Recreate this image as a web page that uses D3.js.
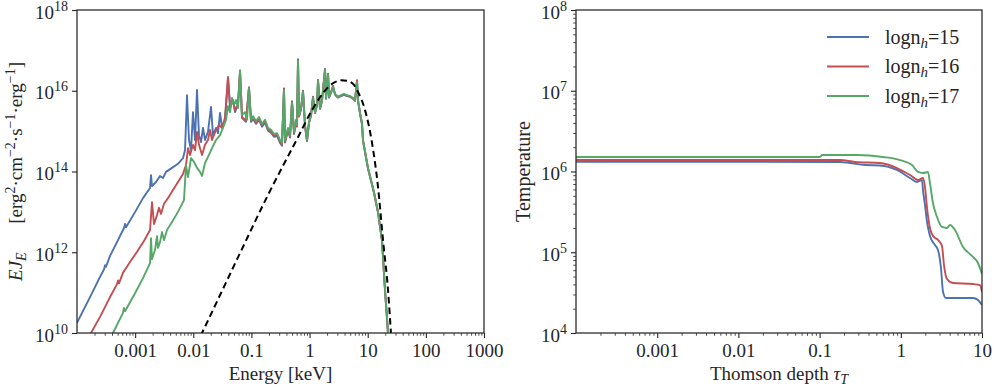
<!DOCTYPE html>
<html>
<head>
<meta charset="utf-8">
<script src="https://cdn.jsdelivr.net/npm/d3@7"></script>
<style>
  body { margin: 0; background: #fff; }
  svg text { font-family: "Liberation Serif", "DejaVu Serif", serif; fill: #262626; }
</style>
</head>
<body>
<svg id="chart" width="996" height="388"></svg>
<script>
// ---- left panel: spectra, [log10 E (keV), log10 EJ_E] ----
const spec15Lo = [[-4.000,10.25],[-3.776,10.89],[-3.604,11.39],[-3.535,11.58],[-3.518,11.68],[-3.501,11.64],[-3.432,11.91],[-3.295,12.30],[-3.192,12.60],[-3.174,12.70],[-3.157,12.62],[-3.000,13.00],[-2.865,13.34],[-2.744,13.59],[-2.727,13.91],[-2.710,13.64],[-2.641,13.74],[-2.572,13.89],[-2.521,13.84],[-2.469,13.99],[-2.366,14.09],[-2.263,14.19],[-2.177,14.33],[-2.142,14.53],[-2.108,15.89],[-2.074,14.78],[-2.039,14.53],[-2.005,15.47],[-1.970,14.78],[-1.936,16.02],[-1.902,14.90],[-1.867,14.73],[-1.833,15.08],[-1.798,14.78],[-1.747,14.98],[-1.695,15.60],[-1.661,14.90],[-1.609,15.08],[-1.575,14.95],[-1.540,15.45],[-1.506,15.08],[-1.454,15.28],[-1.403,16.32],[-1.368,15.57],[-1.317,15.77],[-1.282,15.47],[-1.231,15.65],[-1.196,16.46],[-1.162,15.33],[-1.093,15.23],[-1.042,16.07],[-1.007,15.23]];
const spec16Lo = [[-3.80,9.9],[-3.759,10.00],[-3.604,10.40],[-3.432,10.89],[-3.312,11.21],[-3.295,11.30],[-3.278,11.23],[-3.209,11.49],[-3.088,11.76],[-2.968,12.01],[-2.848,12.28],[-2.744,12.55],[-2.710,13.24],[-2.676,12.70],[-2.624,12.92],[-2.590,13.10],[-2.555,12.95],[-2.504,13.20],[-2.435,13.34],[-2.349,13.54],[-2.263,13.74],[-2.177,13.94],[-2.125,14.16],[-2.091,14.58],[-2.056,14.41],[-2.005,14.66],[-1.970,14.53],[-1.936,14.98],[-1.902,14.66],[-1.850,14.41],[-1.798,14.66],[-1.747,14.78],[-1.712,15.03],[-1.678,14.78],[-1.609,15.03],[-1.557,15.15],[-1.506,15.08],[-1.454,15.33],[-1.403,16.34],[-1.368,15.65],[-1.317,15.77],[-1.282,15.52],[-1.231,15.67],[-1.196,16.49],[-1.162,15.35],[-1.093,15.25],[-1.042,16.09],[-1.007,15.25]];
const spec17Lo = [[-3.42,9.9],[-3.381,10.00],[-3.209,10.50],[-3.192,10.62],[-3.174,10.54],[-3.000,10.99],[-2.865,11.36],[-2.744,11.73],[-2.727,12.35],[-2.710,11.83],[-2.658,12.06],[-2.624,12.40],[-2.607,12.11],[-2.572,12.25],[-2.538,12.50],[-2.504,12.30],[-2.452,12.55],[-2.366,12.75],[-2.263,13.00],[-2.160,13.29],[-2.125,14.16],[-2.091,13.86],[-2.039,14.33],[-1.987,14.24],[-1.936,14.09],[-1.884,13.99],[-1.850,13.89],[-1.798,14.21],[-1.730,14.41],[-1.678,14.58],[-1.609,14.78],[-1.540,14.90],[-1.489,15.08],[-1.437,15.28],[-1.403,15.62],[-1.368,15.47],[-1.334,15.82],[-1.300,15.65],[-1.265,15.77],[-1.231,15.57],[-1.196,16.51],[-1.162,15.40],[-1.110,15.47],[-1.076,15.28],[-1.042,16.07],[-1.007,15.28]];

// shared energy grid above ~0.1 keV, where the three spectra nearly overlap
const hiLogE = [-0.973,-0.921,-0.870,-0.818,-0.766,-0.715,-0.663,-0.612,-0.560,-0.508,-0.474,-0.440,-0.422,-0.371,-0.336,-0.302,-0.267,-0.233,-0.216,-0.199,-0.182,-0.147,-0.113,-0.078,-0.044,-0.010,0.025,0.059,0.094,0.128,0.145,0.180,0.214,0.266,0.283,0.318,0.335,0.369,0.403,0.438,0.489,0.541,0.592,0.644,0.696,0.747,0.782,0.816,0.833,0.868,0.902,0.919,0.971,1.005,1.057,1.108,1.177,1.246,1.298,1.332,1.349,1.366];
const spec15Hi = [15.30,15.18,15.28,15.11,15.21,15.01,14.96,14.86,14.88,14.71,14.64,16.06,14.72,15.02,14.84,15.74,14.93,15.24,15.11,16.78,15.36,15.54,16.00,15.12,14.75,15.20,15.38,15.85,15.45,15.63,16.27,15.55,15.75,16.54,15.80,16.42,15.83,15.95,16.12,15.90,15.83,15.87,15.90,15.87,15.85,15.80,15.75,16.26,15.75,15.43,15.16,14.76,14.34,14.07,13.77,13.47,12.98,12.28,11.04,10.35,9.98,9.68];
const spec16Hi = [15.33,15.21,15.31,15.14,15.24,15.04,14.99,14.89,14.91,14.74,14.67,16.05,14.74,15.04,14.86,15.73,14.94,15.25,15.12,16.77,15.37,15.55,15.99,15.13,14.76,15.21,15.39,15.84,15.46,15.64,16.26,15.56,15.76,16.53,15.81,16.41,15.84,15.96,16.11,15.91,15.84,15.88,15.91,15.88,15.86,15.81,15.76,16.25,15.76,15.44,15.18,14.77,14.35,14.08,13.78,13.48,12.99,12.29,11.05,10.36,9.99,9.69];
const spec17Hi = [15.37,15.25,15.35,15.18,15.28,15.08,15.03,14.93,14.95,14.78,14.71,16.02,14.78,15.08,14.90,15.70,14.98,15.28,15.15,16.74,15.40,15.57,15.97,15.15,14.78,15.23,15.40,15.82,15.47,15.65,16.24,15.57,15.77,16.51,15.82,16.39,15.85,15.97,16.09,15.92,15.85,15.89,15.92,15.89,15.87,15.82,15.77,16.22,15.77,15.45,15.22,14.78,14.36,14.09,13.79,13.49,13.00,12.30,11.06,10.37,10.00,9.70];

// dashed reference spectrum
const bbSpec = [[-1.95,9.7],[-1.85,10.0],[-1.196,11.98],[-0.732,13.37],[-0.199,14.85],[0.042,15.52],[0.30,16.06],[0.42,16.20],[0.54,16.26],[0.66,16.24],[0.76,16.15],[0.833,15.97],[0.954,15.52],[1.074,14.71],[1.177,13.62],[1.263,12.30],[1.349,11.07],[1.40,10.0],[1.42,9.6]];

// ---- right panel: temperature, [log10 tau_T, log10 T] ----
const temp15 = [[-4,6.121],[-0.749,6.118],[-0.626,6.105],[-0.441,6.08],[-0.256,6.075],[-0.047,6.019],[0.113,5.919],[0.199,5.87],[0.261,5.895],[0.273,5.771],[0.298,5.585],[0.323,5.375],[0.359,5.201],[0.421,5.09],[0.458,5.028],[0.495,4.805],[0.52,4.508],[0.557,4.433],[0.729,4.433],[0.889,4.433],[0.951,4.409],[1.0,4.347]];
const temp16 = [[-4,6.142],[-0.749,6.142],[-0.564,6.118],[-0.256,6.105],[-0.047,6.043],[0.113,5.957],[0.212,5.895],[0.273,5.92],[0.298,5.808],[0.323,5.548],[0.359,5.30],[0.396,5.201],[0.458,5.152],[0.507,5.077],[0.532,4.842],[0.569,4.669],[0.643,4.619],[0.889,4.607],[0.975,4.594],[1.0,4.508]];
const temp17 = [[-4,6.18],[-0.995,6.18],[-0.970,6.204],[-0.540,6.204],[-0.219,6.18],[-0.010,6.142],[0.138,6.08],[0.212,5.994],[0.273,5.981],[0.335,5.994],[0.359,5.858],[0.396,5.61],[0.446,5.437],[0.507,5.313],[0.569,5.30],[0.606,5.337],[0.667,5.276],[0.766,5.065],[0.877,4.954],[0.951,4.867],[1.0,4.731]];

const seriesNames = ["15", "16", "17"];
const colors = ["#4c72b0", "#c44e52", "#55a868"];

const xTicksE = [1e-3, 1e-2, 1e-1, 1, 10, 100, 1000];
const xLabelsE = ["0.001", "0.01", "0.1", "1", "10", "100", "1000"];
const yExpF = [10, 12, 14, 16, 18];
const xTicksT = [1e-3, 1e-2, 1e-1, 1, 10];
const xLabelsT = ["0.001", "0.01", "0.1", "1", "10"];
const yExpT = [4, 5, 6, 7, 8];

const ink = "#262626";
const svg = d3.select("#chart");

const xE = d3.scaleLog().domain([1e-4, 1e3]).range([77, 484]);
const yF = d3.scaleLog().domain([1e10, 1e18]).range([333, 10]);
const xT = d3.scaleLog().domain([1e-4, 10]).range([576, 982]);
const yT = d3.scaleLog().domain([1e4, 1e8]).range([333, 10]);

const isPow10 = (d) => Math.abs(Math.log10(d) - Math.round(Math.log10(d))) < 1e-6;

function drawAxes(x, y, xTicks, xLabels, yExps, yMinor) {
  const [x0, x1] = x.range();
  const [y1, y0] = y.range();

  // x major + labels
  const gx = svg.append("g")
    .attr("transform", `translate(0,${y1})`)
    .attr("color", ink)
    .call(d3.axisBottom(x).tickValues(xTicks).tickSize(5).tickFormat((d, i) => xLabels[i]));
  gx.select(".domain").remove();
  gx.selectAll("line").attr("stroke-width", 1.1);
  gx.selectAll("text").style("font-size", "19px").attr("y", 10.5);

  // x minor
  const gxm = svg.append("g")
    .attr("transform", `translate(0,${y1})`)
    .attr("color", ink)
    .call(d3.axisBottom(x).tickValues(x.ticks().filter((d) => !isPow10(d))).tickSize(2.8).tickFormat(""));
  gxm.select(".domain").remove();
  gxm.selectAll("line").attr("stroke-width", 0.8);

  // y major
  const gy = svg.append("g")
    .attr("transform", `translate(${x0},0)`)
    .attr("color", ink)
    .call(d3.axisLeft(y).tickValues(yExps.map((e) => Math.pow(10, e))).tickSize(5).tickFormat(""));
  gy.select(".domain").remove();
  gy.selectAll("line").attr("stroke-width", 1.1);

  if (yMinor) {
    const gym = svg.append("g")
      .attr("transform", `translate(${x0},0)`)
      .attr("color", ink)
      .call(d3.axisLeft(y).tickValues(y.ticks().filter((d) => !isPow10(d))).tickSize(2.8).tickFormat(""));
    gym.select(".domain").remove();
    gym.selectAll("line").attr("stroke-width", 0.8);
  }

  // y labels 10^n
  yExps.forEach((e) => {
    const ty = y(Math.pow(10, e));
    const t = svg.append("text")
      .attr("x", x0 - 9)
      .attr("y", ty + 8.5)
      .attr("text-anchor", "end")
      .style("font-size", "19px");
    t.append("tspan").text("10");
    t.append("tspan").attr("dy", -8).style("font-size", "14px").text(e);
  });

  // frame
  svg.append("rect")
    .attr("x", x0).attr("y", y0)
    .attr("width", x1 - x0).attr("height", y1 - y0)
    .attr("fill", "none")
    .attr("stroke", ink)
    .attr("stroke-width", 1.25);
}

function clip(id, x, y) {
  svg.append("clipPath").attr("id", id)
    .append("rect")
    .attr("x", x.range()[0]).attr("y", y.range()[1])
    .attr("width", x.range()[1] - x.range()[0])
    .attr("height", y.range()[0] - y.range()[1]);
}
clip("clipL", xE, yF);
clip("clipR", xT, yT);

// ---- left panel lines ----
const lineE = d3.line()
  .x((d) => xE(Math.pow(10, d[0])))
  .y((d) => yF(Math.pow(10, d[1])));

const spectra = [
  spec15Lo.concat(hiLogE.map((e, i) => [e, spec15Hi[i]])),
  spec16Lo.concat(hiLogE.map((e, i) => [e, spec16Hi[i]])),
  spec17Lo.concat(hiLogE.map((e, i) => [e, spec17Hi[i]]))
];

const gL = svg.append("g").attr("clip-path", "url(#clipL)");
spectra.forEach((s, i) => {
  gL.append("path")
    .datum(s.filter((d) => d[1] !== undefined))
    .attr("d", lineE)
    .attr("fill", "none")
    .attr("stroke", colors[i])
    .attr("stroke-width", 1.9)
    .attr("stroke-linejoin", "round");
});
gL.append("path")
  .datum(bbSpec)
  .attr("d", lineE.curve(d3.curveMonotoneX))
  .attr("fill", "none")
  .attr("stroke", "#000")
  .attr("stroke-width", 2)
  .attr("stroke-dasharray", "6.5,4");

// ---- right panel lines ----
const lineT = d3.line()
  .x((d) => xT(Math.pow(10, d[0])))
  .y((d) => yT(Math.pow(10, d[1])))
  .curve(d3.curveMonotoneX);

const gR = svg.append("g").attr("clip-path", "url(#clipR)");
[temp15, temp16, temp17].forEach((s, i) => {
  gR.append("path")
    .datum(s)
    .attr("d", lineT)
    .attr("fill", "none")
    .attr("stroke", colors[i])
    .attr("stroke-width", 1.9);
});

drawAxes(xE, yF, xTicksE, xLabelsE, yExpF, false);
drawAxes(xT, yT, xTicksT, xLabelsT, yExpT, true);

// axis titles
svg.append("text")
  .attr("x", (xE.range()[0] + xE.range()[1]) / 2).attr("y", 380)
  .attr("text-anchor", "middle").style("font-size", "19px")
  .text("Energy [keV]");

const tx = svg.append("text")
  .attr("x", (xT.range()[0] + xT.range()[1]) / 2).attr("y", 380)
  .attr("text-anchor", "middle").style("font-size", "19px");
tx.append("tspan").text("Thomson depth ");
tx.append("tspan").style("font-style", "italic").text("\u03c4");
tx.append("tspan").attr("dy", 4).style("font-style", "italic").style("font-size", "14px").text("T");

const yl = svg.append("text")
  .attr("transform", "translate(22,171.5) rotate(-90)")
  .attr("text-anchor", "middle").style("font-size", "19px");
yl.append("tspan").style("font-style", "italic").text("EJ");
yl.append("tspan").attr("dy", 4).style("font-style", "italic").style("font-size", "14px").text("E");
yl.append("tspan").attr("dy", -4).text("\u2003\u2002[erg");
yl.append("tspan").attr("dy", -7).style("font-size", "14px").text("2");
yl.append("tspan").attr("dy", 7).text("\u00b7cm");
yl.append("tspan").attr("dy", -7).style("font-size", "14px").text("\u22122");
yl.append("tspan").attr("dy", 7).text("\u00b7s");
yl.append("tspan").attr("dy", -7).style("font-size", "14px").text("\u22121");
yl.append("tspan").attr("dy", 7).text("\u00b7erg");
yl.append("tspan").attr("dy", -7).style("font-size", "14px").text("\u22121");
yl.append("tspan").attr("dy", 7).text("]");

svg.append("text")
  .attr("transform", "translate(530,171.5) rotate(-90)")
  .attr("text-anchor", "middle").style("font-size", "20px")
  .text("Temperature");

// legend
const legend = svg.append("g");
seriesNames.forEach((n, i) => {
  const ly = 37 + i * 29.5;
  legend.append("line")
    .attr("x1", 827).attr("x2", 869)
    .attr("y1", ly).attr("y2", ly)
    .attr("stroke", colors[i]).attr("stroke-width", 1.9);
  const t = legend.append("text")
    .attr("x", 885).attr("y", ly + 6.5)
    .style("font-size", "20px");
  t.append("tspan").text("logn");
  t.append("tspan").attr("dy", 4).style("font-style", "italic").style("font-size", "15px").text("h");
  t.append("tspan").attr("dy", -4).text("=" + n);
});
</script>
</body>
</html>
